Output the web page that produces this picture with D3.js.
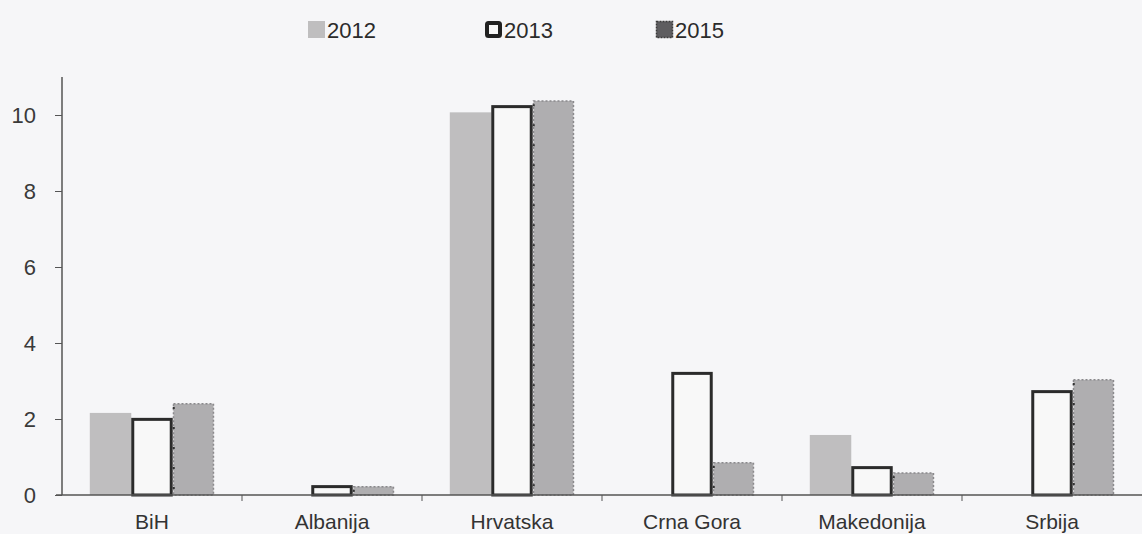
<!DOCTYPE html>
<html><head><meta charset="utf-8">
<script src="https://cdn.jsdelivr.net/npm/d3@7/dist/d3.min.js"></script>
<style>
html,body{margin:0;padding:0;background:#f6f6f8;}
svg{display:block;font-family:"Liberation Sans",Arial,sans-serif;}
</style></head><body>
<svg id="c" width="1142" height="534"></svg>
<script>
const categories = ["BiH","Albanija","Hrvatska","Crna Gora","Makedonija","Srbija"];
const seriesNames = ["2012","2013","2015"];
const values2012 = [2.16, null, 10.07, null, 1.58, null];
const values2013 = [2.03, 0.26, 10.26, 3.24, 0.76, 2.76];
const values2015 = [2.42, 0.24, 10.39, 0.87, 0.6, 3.05];
const yTicks = [0,2,4,6,8,10];

(function(){
const seriesValues = {"2012": values2012, "2013": values2013, "2015": values2015};
const svg = d3.select("#c");
const mLeft = 62, mRight = 1142, mBottom = 495, mTop = 77;

const y = d3.scaleLinear().domain([0, 11]).range([mBottom, mTop]);
const x0 = d3.scaleBand().domain(categories).range([mLeft, mRight]).paddingInner(0).paddingOuter(0);
const x1 = d3.scaleBand().domain(seriesNames).range([0, x0.bandwidth()]).paddingInner(0).paddingOuter(0.67);

const styles = {
  "2012": {fill:"#bfbebf", stroke:"none", sw:0, dash:null},
  "2013": {fill:"#f8f8f8", stroke:"#2b2b2b", sw:3, dash:null},
  "2015": {fill:"#afaeb0", stroke:"#8a898c", sw:1.5, dash:"2,2"}
};
seriesNames.forEach(s => {
  const st = styles[s];
  const data = categories.map((c,i) => ({c, v: seriesValues[s][i]})).filter(d => d.v != null);
  svg.append("g").selectAll("rect").data(data).join("rect")
    .attr("x", d => x0(d.c) + x1(s) + (st.sw/2))
    .attr("y", d => y(d.v) + st.sw/2)
    .attr("width", x1.bandwidth() - st.sw)
    .attr("height", d => Math.max(0, y(0) - y(d.v) - st.sw/2))
    .attr("fill", st.fill)
    .attr("stroke", st.stroke)
    .attr("stroke-width", st.sw)
    .attr("stroke-dasharray", st.dash);
});
// dotted dark left edge of 2015 bars
const d15 = categories.map((c,i) => ({c, v: values2015[i]})).filter(d => d.v != null);
svg.append("g").selectAll("line").data(d15).join("line")
  .attr("x1", d => x0(d.c) + x1("2015") + 1).attr("x2", d => x0(d.c) + x1("2015") + 1)
  .attr("y1", d => y(d.v) + 4).attr("y2", y(0))
  .attr("stroke", "#333").attr("stroke-width", 2).attr("stroke-dasharray", "2,18");

const yAxis = svg.append("g").attr("transform", `translate(${mLeft},0)`)
  .call(d3.axisLeft(y).tickValues(yTicks).tickSize(7).tickPadding(19).tickFormat(d3.format("d")));
yAxis.select(".domain").attr("stroke","#555").attr("stroke-width",1.5).attr("d", `M0,${mTop}V${mBottom}`);
yAxis.selectAll(".tick line").attr("stroke","#555");
yAxis.selectAll("text").attr("font-size", 22).attr("fill","#3a3a3a")
  .attr("font-family","'Liberation Sans Narrow', 'Liberation Sans', Arial, sans-serif");

const xAxis = svg.append("g").attr("transform", `translate(0,${mBottom})`);
xAxis.append("line").attr("x1", mLeft - 6).attr("x2", mRight).attr("stroke","#555").attr("stroke-width",1.5);
xAxis.selectAll(".xt").data(categories.slice(1)).join("line")
  .attr("x1", d => x0(d)).attr("x2", d => x0(d)).attr("y1",0).attr("y2",6)
  .attr("stroke","#555");
xAxis.selectAll(".xl").data(categories).join("text")
  .attr("x", d => x0(d) + x0.bandwidth()/2).attr("y", 34)
  .attr("text-anchor","middle").attr("font-size",21).attr("fill","#333").text(d => d);

const legendX = [308, 485, 656];
const legend = svg.append("g");
seriesNames.forEach((s,i) => {
  const st = styles[s];
  const g = legend.append("g").attr("transform", `translate(${legendX[i]},21)`);
  if (s === "2013") {
    g.append("rect").attr("x",2).attr("y",2).attr("width",13).attr("height",13)
      .attr("fill","#f8f8f8").attr("stroke","#222").attr("stroke-width",4).attr("rx",1.5);
  } else if (s === "2015") {
    g.append("rect").attr("x",0.5).attr("y",0.5).attr("width",16).attr("height",16)
      .attr("fill","#5e5d60").attr("stroke","#3a3a3a").attr("stroke-width",1.5).attr("stroke-dasharray","2,1");
  } else {
    g.append("rect").attr("x",0).attr("y",0).attr("width",17).attr("height",17).attr("fill",st.fill);
  }
  g.append("text").attr("x",19).attr("y",17).attr("font-size",22).attr("fill","#2b2b2b").text(s);
});
})();
</script>
</body></html>
